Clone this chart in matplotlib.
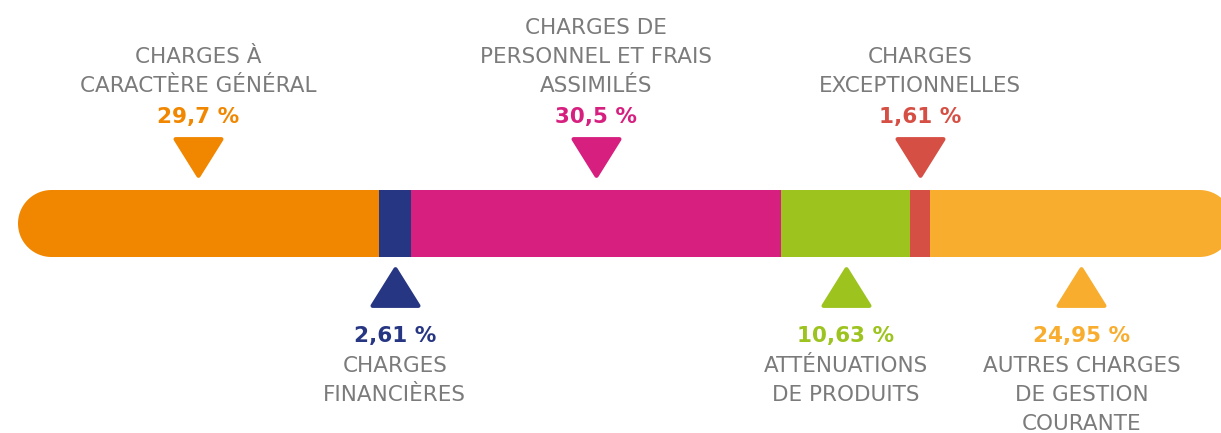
import matplotlib
matplotlib.use("Agg")
import matplotlib.pyplot as plt
from matplotlib.patches import PathPatch
from matplotlib.path import Path
import numpy as np

# ---- data ----
categories = [
    "CHARGES À\nCARACTÈRE GÉNÉRAL",
    "CHARGES\nFINANCIÈRES",
    "CHARGES DE\nPERSONNEL ET FRAIS\nASSIMILÉS",
    "ATTÉNUATIONS\nDE PRODUITS",
    "CHARGES\nEXCEPTIONNELLES",
    "AUTRES CHARGES\nDE GESTION\nCOURANTE",
]
values = [29.7, 2.61, 30.5, 10.63, 1.61, 24.95]
value_labels = ["29,7 %", "2,61 %", "30,5 %", "10,63 %", "1,61 %", "24,95 %"]
colors = ["#F18700", "#263682", "#D61F7F", "#9CC31E", "#D64F44", "#F8AD2F"]
above = [True, False, True, False, True, False]

# ---- layout ----
W, H = 1221, 433
fig = plt.figure(figsize=(W / 100, H / 100), dpi=100)
ax = fig.add_axes([0, 0, 1, 1])
px_per_unit = 12.15          # pixels per percentage point
x_left_px = 18
ax.set_xlim(-x_left_px / px_per_unit, (W - x_left_px) / px_per_unit)
ax.set_ylim(H, 0)
ax.axis("off")

bar_top, bar_bot = 190, 257
bar_h = bar_bot - bar_top
bar_c = (bar_top + bar_bot) / 2

lefts = np.concatenate([[0], np.cumsum(values)[:-1]])
bars = ax.barh([bar_c] * len(values), values, left=lefts, height=bar_h,
               color=colors, edgecolor="none")

# pill-shaped clip (semicircular ends)
total = sum(values)
r = bar_h / 2
rx = r / px_per_unit
t1 = np.linspace(np.pi / 2, 3 * np.pi / 2, 60)
t2 = np.linspace(-np.pi / 2, np.pi / 2, 60)
left_arc = np.column_stack([rx + rx * np.cos(t1), bar_c - r * np.sin(t1)])
right_arc = np.column_stack([total - rx + rx * np.cos(t2), bar_c - r * np.sin(t2)])
verts = np.vstack([left_arc, right_arc, left_arc[:1]])
codes = [Path.MOVETO] + [Path.LINETO] * (len(verts) - 2) + [Path.CLOSEPOLY]
clip = PathPatch(Path(verts, codes), transform=ax.transData,
                 facecolor="none", edgecolor="none")
ax.add_patch(clip)
for b in bars:
    b.set_clip_path(clip)

# triangle markers
down_tri = Path([(-0.5, 0.4), (0.5, 0.4), (0, -0.4), (-0.5, 0.4)],
                [Path.MOVETO, Path.LINETO, Path.LINETO, Path.CLOSEPOLY])
up_tri = Path([(-0.5, -0.4), (0.5, -0.4), (0, 0.4), (-0.5, -0.4)],
              [Path.MOVETO, Path.LINETO, Path.LINETO, Path.CLOSEPOLY])

gray = "#7B7B7B"
name_font = "DejaVu Sans"
fs_name = 15.5
fs_val = 15.5
line_step = 29

for i, (name, v, lab, c, up) in enumerate(zip(categories, values, value_labels, colors, above)):
    xm = lefts[i] + v / 2
    lines = name.split("\n")
    if up:
        ax.plot([xm], [157], marker=down_tri, markersize=33, color=c,
                markeredgecolor=c, markeredgewidth=3, linestyle="none")
        ax.text(xm, 123, lab, ha="center", va="baseline", fontsize=fs_val,
                fontweight="bold", color=c, family=name_font)
        base = 92
        for k, ln in enumerate(reversed(lines)):
            ax.text(xm, base - k * line_step, ln, ha="center", va="baseline",
                    fontsize=fs_name, color=gray, family=name_font)
    else:
        ax.plot([xm], [287], marker=up_tri, markersize=33, color=c,
                markeredgecolor=c, markeredgewidth=3, linestyle="none")
        ax.text(xm, 342, lab, ha="center", va="baseline", fontsize=fs_val,
                fontweight="bold", color=c, family=name_font)
        base = 372
        for k, ln in enumerate(lines):
            ax.text(xm, base + k * line_step, ln, ha="center", va="baseline",
                    fontsize=fs_name, color=gray, family=name_font)

fig.savefig("out.png", dpi=100)
